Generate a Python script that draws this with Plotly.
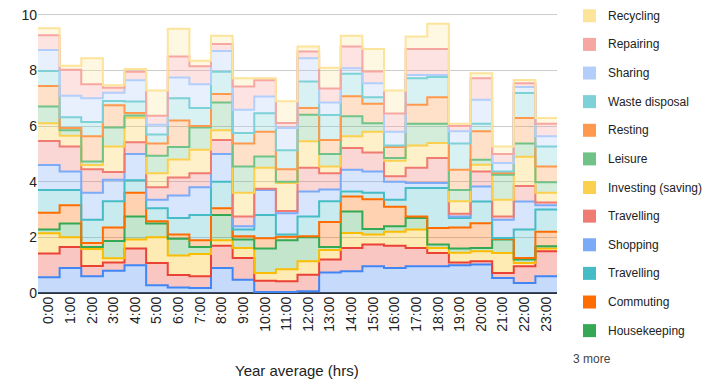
import plotly.graph_objects as go

hours = ["0:00", "1:00", "2:00", "3:00", "4:00", "5:00", "6:00", "7:00", "8:00", "9:00",
         "10:00", "11:00", "12:00", "13:00", "14:00", "15:00", "16:00", "17:00", "18:00",
         "19:00", "20:00", "21:00", "22:00", "23:00"]

# Series values (stacked bottom -> top), hours per hour of day
other_1 = [0.57, 0.90, 0.60, 0.80, 1.00, 0.28, 0.20, 0.18, 0.90, 0.48, 0.04, 0.04, 0.06, 0.74, 0.78, 0.96, 0.90, 0.96, 0.96, 1.00, 1.02, 0.54, 0.36, 0.60]
other_2 = [0.85, 0.75, 0.37, 0.30, 0.60, 0.80, 0.45, 0.42, 0.80, 0.78, 0.40, 0.38, 0.60, 0.46, 0.84, 0.78, 0.80, 0.66, 0.48, 0.10, 0.12, 0.18, 0.60, 0.90]
other_3 = [0.73, 0.35, 0.61, 0.15, 0.32, 0.92, 0.70, 0.80, 0.20, 0.36, 0.28, 0.43, 0.48, 0.35, 0.54, 0.36, 0.50, 0.66, 0.18, 0.35, 0.36, 0.72, 0.12, 0.10]
housekeeping = [0.13, 0.50, 0.07, 0.62, 0.83, 0.50, 0.60, 0.25, 0.90, 0.30, 0.88, 1.05, 0.86, 0.10, 0.77, 0.20, 0.20, 0.42, 0.12, 0.15, 0.12, 0.48, 0.12, 0.08]
commuting = [0.60, 0.65, 0.15, 0.48, 0.85, 0.08, 0.15, 0.25, 0.25, 0.12, 0.37, 0.12, 0.04, 0.90, 0.54, 1.07, 0.70, 0.05, 0.60, 0.75, 0.89, 0.03, 0.06, 0.52]
travelling_a = [0.82, 0.55, 0.83, 0.95, 0.45, 0.47, 0.60, 0.90, 0.95, 0.24, 0.83, 0.08, 0.71, 0.75, 0.18, 0.23, 0.25, 1.02, 1.43, 0.35, 0.78, 0.03, 1.02, 0.80]
shopping = [0.90, 0.67, 0.97, 0.77, 0.95, 0.30, 0.80, 1.00, 1.00, 0.12, 0.90, 0.77, 0.90, 0.42, 0.78, 0.77, 0.65, 0.18, 0.18, 0.05, 0.54, 0.65, 1.01, 0.15]
travelling_b = [0.86, 0.90, 0.85, 0.28, 0.42, 0.45, 0.65, 0.50, 0.50, 0.35, 0.05, 0.08, 0.85, 0.58, 0.78, 0.68, 0.20, 0.55, 0.90, 0.10, 0.54, 0.12, 0.56, 0.10]
investing = [0.64, 0.38, 0.15, 0.92, 0.88, 0.50, 0.65, 0.85, 0.35, 0.85, 0.75, 1.00, 0.95, 0.25, 0.42, 0.75, 0.55, 0.80, 0.54, 0.45, 0.24, 0.60, 1.05, 0.35]
leisure = [0.60, 0.20, 0.13, 0.68, 0.08, 0.63, 0.45, 0.80, 1.00, 0.95, 0.41, 0.05, 0.96, 0.45, 0.72, 0.30, 0.10, 0.78, 0.69, 0.40, 0.18, 0.90, 0.47, 0.38]
resting = [0.74, 0.08, 0.90, 0.80, 0.09, 0.44, 0.95, 0.05, 0.30, 0.82, 0.89, 0.45, 0.24, 0.50, 0.72, 0.70, 0.40, 0.69, 0.96, 0.73, 1.02, 0.06, 0.92, 0.57]
waste_disposal = [0.54, 0.39, 0.52, 0.15, 0.41, 0.33, 0.80, 0.65, 0.80, 0.38, 0.66, 0.68, 0.95, 0.90, 0.81, 0.24, 0.05, 0.95, 0.72, 0.94, 0.27, 0.06, 0.90, 0.72]
sharing = [0.75, 0.77, 0.85, 0.30, 0.77, 0.35, 0.75, 0.85, 0.75, 0.84, 0.60, 0.80, 0.84, 0.45, 0.20, 0.50, 0.50, 0.12, 0.08, 0.44, 0.87, 0.30, 0.21, 0.36]
repairing = [0.53, 0.93, 0.50, 0.18, 0.30, 0.32, 0.75, 0.65, 0.25, 0.83, 0.59, 0.18, 0.24, 0.50, 0.78, 0.42, 0.65, 0.93, 0.93, 0.19, 0.77, 0.33, 0.14, 0.45]
recycling = [0.26, 0.15, 0.94, 0.09, 0.10, 0.91, 1.00, 0.20, 0.30, 0.30, 0.07, 0.78, 0.18, 0.75, 0.39, 0.81, 0.83, 0.45, 0.91, 0.08, 0.18, 0.27, 0.12, 0.21]

series_names = ["Other 1", "Other 2", "Other 3", "Housekeeping", "Commuting", "Travelling",
                "Shopping", "Travelling", "Investing (saving)", "Leisure", "Resting",
                "Waste disposal", "Sharing", "Repairing", "Recycling"]
series_values = [other_1, other_2, other_3, housekeeping, commuting, travelling_a, shopping,
                 travelling_b, investing, leisure, resting, waste_disposal, sharing, repairing, recycling]
colors = ["#4285f4", "#ea4335", "#fbbc04", "#34a853", "#ff6d01", "#46bdc6", "#7baaf7",
          "#f07b72", "#fcd04f", "#71c287", "#ff994d", "#7ed1d7", "#b3cefb", "#f7a7a1", "#fde49b"]


def rgba(hexc, a):
    h = hexc.lstrip("#")
    return f"rgba({int(h[0:2],16)},{int(h[2:4],16)},{int(h[4:6],16)},{a})"


n = len(hours)
edges = [i - 0.5 for i in range(n + 1)]

fig = go.Figure()
for name, vals, col in zip(series_names, series_values, colors):
    fig.add_trace(go.Scatter(
        x=edges, y=list(vals) + [vals[-1]], mode="lines", name=name,
        stackgroup="one", line=dict(shape="hv", width=2, color=col),
        fillcolor=rgba(col, 0.3), showlegend=False))

# page body has an 8px margin, so the figure is laid out in page pixels minus 8
OFF = 8
W, H = 712 - OFF, 381 - OFF
Y_TOP = 10.1
PX_PER_UNIT = (293 - 15) / 10.0
L, R, B = 38 - OFF, 557 - OFF, 293 - OFF
T = B - PX_PER_UNIT * Y_TOP


def px_x(px):
    return (px - OFF - L) / (R - L)


def px_y(py):
    return (B - (py - OFF)) / (B - T)


shapes = []
annotations = []
legend_idx = list(range(len(series_names) - 1, 2, -1))
for k, idx in enumerate(legend_idx):
    cy = 16 + 28.6 * k
    shapes.append(dict(type="rect", xref="paper", yref="paper",
                       x0=px_x(583), x1=px_x(596), y0=px_y(cy + 6.5), y1=px_y(cy - 6.5),
                       fillcolor=colors[idx], line=dict(width=0)))
    annotations.append(dict(xref="paper", yref="paper", x=px_x(606), y=px_y(cy),
                            xanchor="left", yanchor="middle", showarrow=False,
                            text=series_names[idx], font=dict(size=12, color="#222222")))
annotations.append(dict(xref="paper", yref="paper", x=px_x(571), y=px_y(359),
                        xanchor="left", yanchor="middle", showarrow=False,
                        text="3 more", font=dict(size=12, color="#444444")))
annotations.append(dict(xref="paper", yref="paper", x=px_x(297), y=px_y(370),
                        xanchor="center", yanchor="middle", showarrow=False,
                        text="Year average (hrs)", font=dict(size=15, color="#222222")))

fig.update_layout(
    width=W, height=H,
    margin=dict(l=L, r=W - R, t=T, b=H - B, autoexpand=False),
    plot_bgcolor="white", paper_bgcolor="white",
    font=dict(family="Liberation Sans, Arial, sans-serif", color="#222222"),
    showlegend=False,
    shapes=shapes, annotations=annotations,
    xaxis=dict(range=[-0.5, n - 0.5], tickvals=list(range(n)), ticktext=hours,
               tickangle=-90, showgrid=False, zeroline=False, showline=False,
               tickfont=dict(size=14, color="#222222"), ticks="", automargin=False),
    yaxis=dict(range=[0, Y_TOP], tickvals=[0, 2, 4, 6, 8, 10], gridcolor="#cccccc",
               zeroline=True, zerolinecolor="#333333", zerolinewidth=1.5,
               showline=False, tickfont=dict(size=14, color="#222222"), ticks="",
               ticklabeloverflow="allow", automargin=False),
)

fig.write_html("out.html")
